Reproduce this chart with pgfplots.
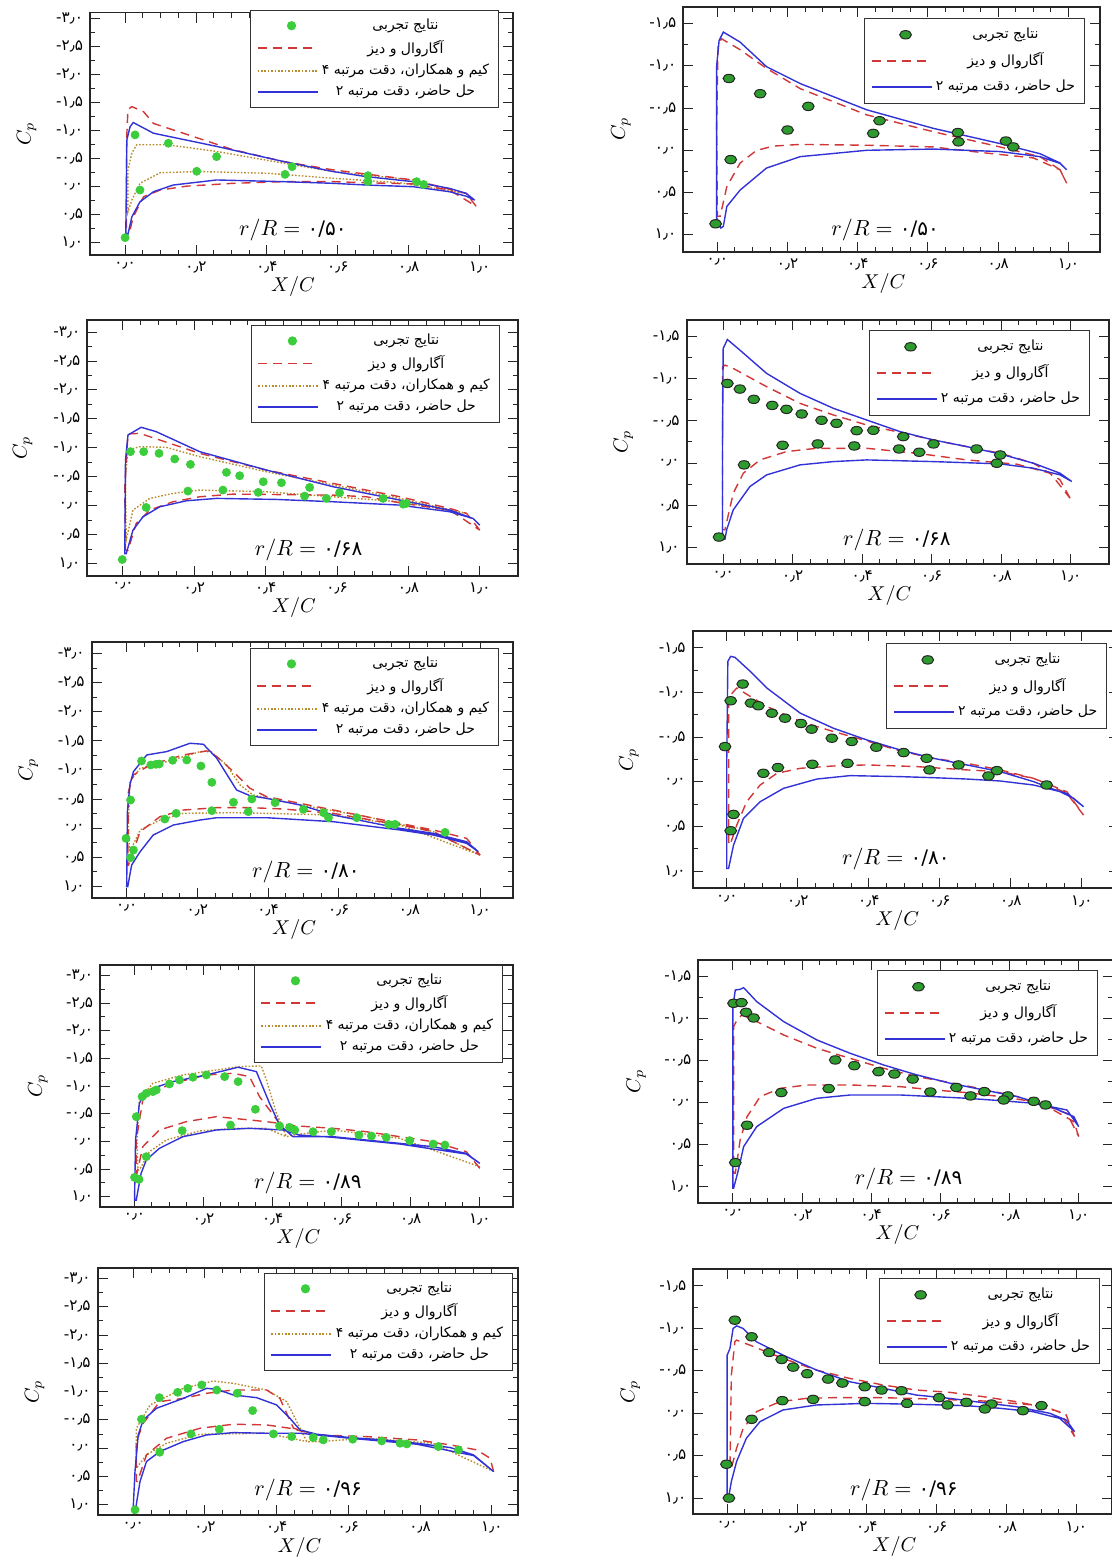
\documentclass[border=0pt]{standalone}
\usepackage{fontspec}
\usepackage{pgfplots}
\pgfplotsset{compat=1.18}
\newfontfamily\fa[Script=Arabic]{DejaVu Sans}
\newfontfamily\fan{DejaVu Sans}
\TeXXeTstate=1
\newcommand{\tickfont}{\fan\fontsize{7.6}{9}\selectfont}
\newcommand{\legfont}{\fa\fontsize{7.0}{8.6}\selectfont}
\newcommand{\m}[1]{\mbox{-}\mbox{#1}}
\definecolor{cexpL}{RGB}{60,205,60}
\definecolor{cexpR}{RGB}{45,155,45}
\definecolor{cagw}{RGB}{210,55,55}
\definecolor{ckim}{RGB}{185,140,45}
\definecolor{cpres}{RGB}{50,50,215}
\newcommand{\LA}{\beginR نتایج تجربی\endR}
\newcommand{\LB}{\beginR آگاروال و دیز\endR}
\newcommand{\LC}{\beginR کیم و همکاران، دقت مرتبه ۴\endR}
\newcommand{\LD}{\beginR حل حاضر، دقت مرتبه ۲\endR}
\pgfplotsset{
  lgline/.style={legend image code/.code={\draw[##1, line width=0.9pt] (0pt,0pt) -- (30pt,0pt);}},
  lgmark/.style={legend image code/.code={\draw[##1] plot coordinates {(17pt,0pt)};}},
  expL/.style={only marks, mark=*, mark size=2.0pt, mark options={fill=cexpL, draw=cexpL}},
  expR/.style={only marks, mark=*, mark size=2.1pt, mark options={xscale=1.4, fill=cexpR, draw=black!85, line width=0.5pt}},
  agw/.style={no marks, draw=cagw, color=cagw, line width=0.7pt, dash pattern=on 4.5pt off 3pt},
  kim/.style={no marks, draw=ckim, color=ckim, line width=0.7pt, dash pattern=on 0.8pt off 0.9pt},
  pres/.style={no marks, draw=cpres, color=cpres, line width=0.7pt},
  cpax/.style={scale only axis, anchor=south west, y dir=reverse,
    tick align=inside, xtick pos=both, ytick pos=both,
    xticklabel pos=bottom, yticklabel pos=left,
    xtick={0,0.2,0.4,0.6,0.8,1},
    xticklabels={۰٫۰,۰٫۲,۰٫۴,۰٫۶,۰٫۸,۱٫۰},
    minor x tick num=3, minor y tick num=1,
    major tick length=5pt, minor tick length=2.5pt,
    every tick/.style={black!85, line width=0.5pt},
    axis line style={black!85, line width=0.9pt},
    tick label style={font=\tickfont},
    xlabel={$X/C$}, ylabel={$C_p$},
    xlabel style={font=\fontsize{10}{12}\selectfont, at={(axis description cs:0.48,0)}, anchor=center, yshift=-16pt},
    ylabel style={font=\fontsize{10}{12}\selectfont, at={(axis description cs:-0.15,0.5)}, anchor=center},
    legend cell align=center,
    legend style={font=\legfont, draw=black!80, line width=0.6pt, fill=white, anchor=north east,
      inner xsep=3pt, inner ysep=2.5pt, nodes={inner sep=1.7pt}},
  },
  leftax/.style={cpax, ytick={-3,-2.5,-2,-1.5,-1,-0.5,0,0.5,1},
    yticklabels={\m{۳٫۰},\m{۲٫۵},\m{۲٫۰},\m{۱٫۵},\m{۱٫۰},\m{۰٫۵},۰٫۰,۰٫۵,۱٫۰},
    legend style={row sep=0.4pt}},
  rightax/.style={cpax, ytick={-1.5,-1,-0.5,0,0.5,1},
    yticklabels={\m{۱٫۵},\m{۱٫۰},\m{۰٫۵},۰٫۰,۰٫۵,۱٫۰},
    legend style={row sep=2.2pt, inner ysep=3pt}},
}
\newcommand{\legL}{%
  \addlegendimage{lgmark,expL}\addlegendentry{\LA}
  \addlegendimage{lgline,agw}\addlegendentry{\LB}
  \addlegendimage{lgline,kim}\addlegendentry{\LC}
  \addlegendimage{lgline,pres}\addlegendentry{\LD}}
\newcommand{\legR}{%
  \addlegendimage{lgmark,expR}\addlegendentry{\LA}
  \addlegendimage{lgline,agw}\addlegendentry{\LB}
  \addlegendimage{lgline,pres}\addlegendentry{\LD}}
\newcommand{\rr}[2]{\node[font=\fontsize{11}{13}\selectfont] at #1 {$r/R=$ {\fan\fontsize{10}{12}\selectfont #2}};}
\begin{document}
\begin{tikzpicture}
\useasboundingbox (0,0) rectangle (556pt,779pt);
%================ L1 r/R=0.50
\begin{axis}[leftax, at={(45pt,651.5pt)}, width=211.5pt, height=121.2pt,
  xmin=-0.099, xmax=1.094, ymin=-3.11, ymax=1.22,
  legend style={at={(axis description cs:0.967,1.011)}}]
\legL
\addplot[kim, forget plot] coordinates {(0.962,0.12) (0.812,-0.12) (0.587,-0.27) (0.446,-0.42) (0.258,-0.63) (0.117,-0.75) (0.033,-0.75) (0.019,-0.6) (0.008,-0.3) (0.008,0.45) (0.019,0.24) (0.042,-0.06) (0.099,-0.25) (0.211,-0.27) (0.4,-0.24) (0.587,-0.15) (0.775,-0.07) (0.962,0.12)};
\addplot[agw, forget plot] coordinates {(0.99,0.35) (0.962,0.12) (0.812,-0.12) (0.587,-0.30) (0.446,-0.45) (0.305,-0.66) (0.164,-0.955) (0.08,-1.13) (0.052,-1.34) (0.019,-1.43) (0.008,-1.38) (0.004,-0.8) (0.004,0.77) (0.014,0.77) (0.023,0.54) (0.052,0.18) (0.099,0.06) (0.174,-0.01) (0.305,-0.06) (0.446,-0.09) (0.587,-0.09) (0.68,-0.07) (0.812,-0.05) (0.915,0.06) (0.99,0.35)};
\addplot[pres, forget plot] coordinates {(0.986,0.24) (0.962,0.12) (0.915,0.03) (0.812,-0.09) (0.68,-0.18) (0.587,-0.27) (0.446,-0.45) (0.258,-0.72) (0.08,-0.955) (0.023,-1.146) (0.014,-1.07) (0.005,-0.84) (0.002,0.83) (0.008,0.85) (0.019,0.54) (0.042,0.27) (0.08,0.09) (0.136,-0.03) (0.258,-0.12) (0.446,-0.09) (0.587,-0.06) (0.68,-0.03) (0.812,0.0) (0.915,0.09) (0.962,0.17) (0.986,0.24)};
\addplot[expL, forget plot] coordinates {(0.028,-0.925) (0.122,-0.776) (0.258,-0.537) (0.471,-0.358) (0.685,-0.197) (0.822,-0.09) (0.842,-0.04) (0.685,-0.09) (0.451,-0.22) (0.202,-0.275) (0.042,0.06) (0.0,0.91)};
\rr{(axis cs:0.473,0.77)}{۰/۵۰}
\end{axis}
%================ R1 r/R=0.50
\begin{axis}[rightax, at={(341.65pt,653.15pt)}, width=208.35pt, height=122.5pt,
  xmin=-0.097, xmax=1.09, ymin=-1.70, ymax=1.20,
  legend style={at={(axis description cs:0.964,0.954)}}]
\legR
\addplot[agw, forget plot] coordinates {(0.995,0.39) (0.976,0.23) (0.919,0.075) (0.805,-0.04) (0.615,-0.22) (0.425,-0.42) (0.236,-0.73) (0.14,-0.97) (0.065,-1.19) (0.012,-1.32) (0.002,-1.25) (-0.002,-0.3) (0.0,0.78) (0.008,0.78) (0.027,0.43) (0.065,0.15) (0.112,0.0) (0.16,-0.05) (0.236,-0.07) (0.425,-0.06) (0.615,-0.04) (0.76,0.03) (0.9,0.09) (0.976,0.23) (0.995,0.39)};
\addplot[pres, forget plot] coordinates {(0.995,0.23) (0.976,0.15) (0.919,0.04) (0.805,-0.08) (0.615,-0.26) (0.425,-0.48) (0.236,-0.79) (0.14,-0.99) (0.065,-1.28) (0.017,-1.40) (0.005,-1.30) (-0.002,-1.0) (-0.002,0.8) (0.01,0.92) (0.017,0.90) (0.027,0.665) (0.065,0.47) (0.14,0.21) (0.236,0.075) (0.425,0.0) (0.615,-0.015) (0.805,0.015) (0.919,0.075) (0.976,0.155) (0.995,0.23)};
\addplot[expR, forget plot] coordinates {(0.033,-0.85) (0.122,-0.67) (0.259,-0.52) (0.462,-0.35) (0.685,-0.21) (0.822,-0.11) (0.843,-0.04) (0.687,-0.10) (0.444,-0.20) (0.2,-0.24) (0.038,0.11) (-0.005,0.87)};
\rr{(axis cs:0.478,0.94)}{۰/۵۰}
\end{axis}
%================ L2 r/R=0.68
\begin{axis}[leftax, at={(43.65pt,491.15pt)}, width=215.35pt, height=127.85pt,
  xmin=-0.10, xmax=1.107, ymin=-3.21, ymax=1.21,
  legend style={at={(axis description cs:0.958,0.98)}}]
\legL
\addplot[kim, forget plot] coordinates {(0.963,0.134) (0.776,-0.126) (0.589,-0.357) (0.402,-0.587) (0.215,-0.847) (0.121,-1.009) (0.047,-1.02) (0.014,-0.963) (0.007,-0.5) (0.009,0.596) (0.028,0.076) (0.075,-0.126) (0.14,-0.212) (0.215,-0.27) (0.402,-0.241) (0.589,-0.154) (0.776,-0.068) (0.963,0.134)};
\addplot[agw, forget plot] coordinates {(1.0,0.423) (0.963,0.134) (0.916,0.048) (0.776,-0.154) (0.589,-0.385) (0.402,-0.616) (0.215,-0.905) (0.047,-1.251) (0.014,-1.24) (0.005,-0.328) (0.007,0.769) (0.014,0.769) (0.037,0.307) (0.075,0.076) (0.14,-0.068) (0.215,-0.154) (0.308,-0.2) (0.589,-0.183) (0.682,-0.154) (0.776,-0.05) (0.916,0.076) (1.0,0.423)};
\addplot[pres, forget plot] coordinates {(1.0,0.336) (0.981,0.221) (0.916,0.076) (0.776,-0.097) (0.589,-0.328) (0.402,-0.616) (0.215,-0.934) (0.093,-1.28) (0.051,-1.355) (0.014,-1.222) (0.007,-0.789) (0.005,0.83) (0.009,0.83) (0.028,0.423) (0.056,0.192) (0.103,0.019) (0.178,-0.085) (0.262,-0.126) (0.43,-0.108) (0.589,-0.068) (0.776,-0.01) (0.916,0.105) (0.981,0.221) (1.0,0.336)};
\addplot[expL, forget plot] coordinates {(0.021,-0.934) (0.058,-0.934) (0.101,-0.905) (0.145,-0.807) (0.189,-0.714) (0.29,-0.576) (0.327,-0.518) (0.393,-0.414) (0.444,-0.397) (0.523,-0.316) (0.607,-0.224) (0.729,-0.126) (0.794,-0.039) (-0.002,0.931) (0.065,0.03) (0.182,-0.253) (0.28,-0.27) (0.379,-0.23) (0.509,-0.166) (0.57,-0.126) (0.785,-0.027)};
\rr{(axis cs:0.52,0.77)}{۰/۶۸}
\end{axis}
%================ R2 r/R=0.68
\begin{axis}[rightax, at={(343.35pt,497pt)}, width=211.15pt, height=122pt,
  xmin=-0.105, xmax=1.11, ymin=-1.70, ymax=1.20,
  legend style={at={(axis description cs:0.955,0.959)}}]
\legR
\addplot[agw, forget plot] coordinates {(0.998,0.418) (0.969,0.2) (0.893,0.003) (0.797,-0.116) (0.605,-0.274) (0.413,-0.452) (0.317,-0.571) (0.221,-0.709) (0.125,-0.907) (0.029,-1.124) (0.005,-1.164) (-0.002,-1.14) (-0.002,0.793) (0.005,0.793) (0.029,0.358) (0.058,0.121) (0.106,-0.037) (0.182,-0.136) (0.269,-0.175) (0.413,-0.175) (0.557,-0.116) (0.701,-0.037) (0.845,0.014) (0.941,0.121) (0.998,0.418)};
\addplot[pres, forget plot] coordinates {(1.003,0.22) (0.969,0.121) (0.893,0.003) (0.797,-0.108) (0.701,-0.195) (0.605,-0.274) (0.509,-0.373) (0.413,-0.511) (0.317,-0.65) (0.221,-0.828) (0.125,-1.065) (0.048,-1.342) (0.012,-1.468) (0.0,-1.362) (-0.002,-0.235) (-0.002,0.904) (0.005,0.904) (0.01,0.793) (0.029,0.556) (0.077,0.279) (0.125,0.141) (0.221,0.022) (0.317,-0.017) (0.413,-0.037) (0.605,-0.017) (0.797,0.01) (0.893,0.062) (0.969,0.141) (1.003,0.22)};
\addplot[expR, forget plot] coordinates {(0.012,-0.946) (0.048,-0.879) (0.088,-0.757) (0.141,-0.685) (0.182,-0.638) (0.226,-0.583) (0.283,-0.508) (0.326,-0.472) (0.384,-0.385) (0.432,-0.389) (0.518,-0.314) (0.605,-0.227) (0.729,-0.167) (0.797,-0.096) (-0.012,0.88) (0.06,0.022) (0.171,-0.211) (0.272,-0.227) (0.377,-0.203) (0.506,-0.167) (0.564,-0.128) (0.787,0.003)};
\rr{(axis cs:0.5,0.91)}{۰/۶۸}
\end{axis}
%================ L3 r/R=0.80
\begin{axis}[leftax, at={(45.85pt,330.15pt)}, width=210.8pt, height=128pt,
  xmin=-0.099, xmax=1.094, ymin=-3.21, ymax=1.20,
  legend style={at={(axis description cs:0.966,0.975)}}]
\legL
\addplot[kim, forget plot] coordinates {(1.0,0.466) (0.868,0.063) (0.679,-0.195) (0.491,-0.397) (0.358,-0.569) (0.321,-0.741) (0.283,-1.086) (0.236,-1.328) (0.208,-1.316) (0.113,-1.144) (0.038,-1.029) (0.009,-0.799) (0.005,-0.052) (0.008,0.408) (0.009,0.408) (0.038,0.034) (0.094,-0.138) (0.16,-0.253) (0.302,-0.264) (0.396,-0.253) (0.585,-0.224) (0.774,-0.052) (1.0,0.466)};
\addplot[agw, forget plot] coordinates {(1.0,0.466) (0.962,0.178) (0.868,0.034) (0.774,-0.08) (0.679,-0.195) (0.585,-0.31) (0.491,-0.425) (0.396,-0.54) (0.349,-0.684) (0.302,-0.971) (0.255,-1.23) (0.226,-1.328) (0.16,-1.259) (0.066,-1.086) (0.019,-0.914) (0.005,-0.626) (0.003,0.638) (0.005,0.638) (0.038,0.063) (0.094,-0.195) (0.16,-0.31) (0.255,-0.351) (0.349,-0.351) (0.443,-0.328) (0.585,-0.253) (0.774,-0.052) (0.868,0.063) (1.0,0.466)};
\addplot[pres, forget plot] coordinates {(0.995,0.408) (0.962,0.236) (0.868,0.092) (0.774,0.006) (0.679,-0.109) (0.585,-0.224) (0.491,-0.397) (0.396,-0.511) (0.349,-0.557) (0.311,-0.655) (0.255,-1.201) (0.217,-1.443) (0.179,-1.46) (0.113,-1.316) (0.057,-1.259) (0.019,-0.971) (0.009,-0.741) (0.002,-0.282) (0.0,1.011) (0.003,1.011) (0.014,0.638) (0.038,0.408) (0.075,0.121) (0.132,-0.052) (0.208,-0.138) (0.255,-0.178) (0.396,-0.178) (0.585,-0.109) (0.774,0.034) (0.868,0.121) (0.962,0.264) (0.995,0.408)};
\addplot[expL, forget plot] coordinates {(0.042,-1.155) (0.068,-1.086) (0.083,-1.098) (0.092,-1.103) (0.13,-1.167) (0.17,-1.172) (0.21,-1.069) (0.241,-0.787) (0.302,-0.443) (0.354,-0.5) (0.42,-0.437) (0.5,-0.322) (0.557,-0.264) (0.571,-0.178) (0.651,-0.178) (0.741,-0.063) (0.759,-0.063) (0.901,0.075) (0.011,-0.483) (-0.002,0.178) (0.011,0.511) (0.019,0.379) (0.108,-0.155) (0.14,-0.253) (0.241,-0.299) (0.344,-0.282)};
\rr{(axis cs:0.507,0.75)}{۰/۸۰}
\end{axis}
%================ R3 r/R=0.80
\begin{axis}[rightax, at={(346.35pt,334.85pt)}, width=213pt, height=128.65pt,
  xmin=-0.096, xmax=1.104, ymin=-1.69, ymax=1.19,
  legend style={at={(axis description cs:0.973,0.953)}}]
\legR
\addplot[agw, forget plot] coordinates {(1.005,0.371) (0.958,0.127) (0.864,-0.041) (0.77,-0.135) (0.676,-0.209) (0.582,-0.265) (0.488,-0.348) (0.394,-0.46) (0.3,-0.565) (0.207,-0.677) (0.113,-0.845) (0.066,-0.958) (0.028,-1.051) (0.011,-0.976) (0.005,-0.9) (0.005,0.67) (0.009,0.707) (0.028,0.483) (0.056,0.221) (0.094,0.034) (0.141,-0.097) (0.207,-0.153) (0.3,-0.179) (0.394,-0.191) (0.535,-0.172) (0.676,-0.135) (0.77,-0.116) (0.864,-0.041) (0.958,0.109) (1.005,0.371)};
\addplot[pres, forget plot] coordinates {(1.005,0.277) (0.977,0.183) (0.939,0.109) (0.864,-0.004) (0.77,-0.116) (0.676,-0.191) (0.582,-0.265) (0.488,-0.359) (0.394,-0.471) (0.3,-0.602) (0.207,-0.77) (0.113,-1.051) (0.066,-1.238) (0.023,-1.395) (0.011,-1.406) (0.003,-1.35) (0.0,-0.265) (0.0,0.969) (0.005,0.969) (0.019,0.707) (0.047,0.408) (0.094,0.221) (0.16,0.071) (0.254,-0.033) (0.347,-0.071) (0.488,-0.06) (0.582,-0.048) (0.676,-0.033) (0.77,-0.011) (0.864,0.034) (0.958,0.127) (1.005,0.277)};
\addplot[expR, forget plot] coordinates {(0.045,-1.096) (0.011,-0.909) (0.068,-0.883) (0.089,-0.853) (0.127,-0.77) (0.164,-0.714) (0.209,-0.655) (0.239,-0.591) (0.296,-0.49) (0.352,-0.453) (0.421,-0.389) (0.498,-0.329) (0.563,-0.265) (0.653,-0.191) (0.761,-0.127) (0.901,0.034) (-0.005,-0.396) (0.019,0.363) (0.011,0.546) (0.103,-0.097) (0.144,-0.161) (0.241,-0.198) (0.34,-0.209) (0.571,-0.135) (0.737,-0.067)};
\rr{(axis cs:0.476,0.86)}{۰/۸۰}
\end{axis}
%================ L4 r/R=0.89
\begin{axis}[leftax, at={(50pt,175.65pt)}, width=206.65pt, height=120.85pt,
  xmin=-0.10, xmax=1.097, ymin=-3.19, ymax=1.18,
  legend style={at={(axis description cs:0.975,1.0)}}]
\legL
\addplot[kim, forget plot] coordinates {(1.0,0.457) (0.768,-0.056) (0.575,-0.207) (0.459,-0.116) (0.44,-0.086) (0.411,-0.508) (0.382,-1.112) (0.367,-1.365) (0.304,-1.353) (0.237,-1.293) (0.14,-1.202) (0.053,-1.051) (0.014,-0.75) (0.007,-0.026) (0.01,0.517) (0.014,0.517) (0.043,0.186) (0.092,-0.026) (0.188,-0.189) (0.285,-0.237) (0.382,-0.237) (0.44,-0.086)};
\addplot[agw, forget plot] coordinates {(1.0,0.487) (0.961,0.186) (0.865,0.005) (0.768,-0.086) (0.671,-0.176) (0.575,-0.237) (0.459,-0.285) (0.42,-0.327) (0.391,-0.569) (0.362,-0.81) (0.333,-1.172) (0.285,-1.232) (0.208,-1.202) (0.111,-1.051) (0.053,-0.9) (0.024,-0.75) (0.005,-0.026) (0.005,0.578) (0.007,0.578) (0.024,0.095) (0.072,-0.207) (0.15,-0.357) (0.237,-0.448) (0.333,-0.388) (0.382,-0.357) (0.42,-0.327)};
\addplot[pres, forget plot] coordinates {(1.0,0.397) (0.961,0.216) (0.865,0.095) (0.768,0.035) (0.671,-0.026) (0.575,-0.086) (0.459,-0.086) (0.42,-0.297) (0.391,-0.689) (0.353,-1.262) (0.3,-1.341) (0.208,-1.202) (0.111,-1.081) (0.053,-0.961) (0.024,-0.81) (0.014,-0.689) (0.003,-0.026) (0.0,1.06) (0.005,1.06) (0.019,0.578) (0.034,0.336) (0.072,0.125) (0.14,-0.086) (0.237,-0.207) (0.333,-0.237) (0.43,-0.207) (0.478,-0.116) (0.575,-0.074) (0.768,0.047) (0.961,0.228) (1.0,0.397)};
\addplot[expL, forget plot] coordinates {(0.005,-0.448) (0.022,-0.81) (0.034,-0.87) (0.053,-0.9) (0.063,-0.931) (0.101,-1.039) (0.13,-1.112) (0.169,-1.16) (0.208,-1.202) (0.261,-1.172) (0.3,-1.081) (0.35,-0.581) (0.42,-0.279) (0.449,-0.255) (0.464,-0.207) (0.517,-0.176) (0.57,-0.176) (0.65,-0.116) (0.686,-0.098) (0.729,-0.074) (0.797,-0.014) (0.865,0.047) (0.899,0.065) (0.0,0.65) (0.013,0.686) (0.034,0.276) (0.138,-0.195) (0.278,-0.297)};
\rr{(axis cs:0.502,0.747)}{۰/۸۹}
\end{axis}
%================ R4 r/R=0.89
\begin{axis}[rightax, at={(349.15pt,177.65pt)}, width=207.5pt, height=121.35pt,
  xmin=-0.10, xmax=1.10, ymin=-1.69, ymax=1.19,
  legend style={at={(axis description cs:0.963,0.959)}}]
\legR
\addplot[agw, forget plot] coordinates {(1.0,0.406) (0.986,0.228) (0.918,0.07) (0.822,-0.069) (0.725,-0.156) (0.629,-0.235) (0.532,-0.306) (0.436,-0.405) (0.339,-0.523) (0.243,-0.642) (0.147,-0.8) (0.06,-0.978) (0.026,-1.037) (0.012,-0.978) (0.002,-0.9) (0.002,0.841) (0.007,0.841) (0.021,0.445) (0.041,0.169) (0.079,-0.069) (0.137,-0.167) (0.214,-0.207) (0.339,-0.207) (0.484,-0.187) (0.581,-0.148) (0.677,-0.116) (0.773,-0.069) (0.87,-0.009) (0.966,0.129) (1.0,0.406)};
\addplot[pres, forget plot] coordinates {(1.0,0.287) (0.986,0.169) (0.918,0.05) (0.822,-0.069) (0.725,-0.148) (0.629,-0.227) (0.532,-0.326) (0.436,-0.444) (0.339,-0.583) (0.243,-0.741) (0.147,-0.958) (0.069,-1.196) (0.031,-1.362) (0.021,-1.342) (0.007,-1.334) (0.0,-1.136) (0.0,1.019) (0.002,1.019) (0.016,0.801) (0.031,0.525) (0.069,0.287) (0.147,0.07) (0.243,-0.049) (0.339,-0.088) (0.484,-0.088) (0.581,-0.069) (0.677,-0.049) (0.773,-0.021) (0.87,0.01) (0.966,0.09) (1.0,0.287)};
\addplot[expR, forget plot] coordinates {(0.002,-1.176) (0.025,-1.184) (0.038,-1.069) (0.06,-1.002) (0.296,-0.504) (0.351,-0.436) (0.421,-0.365) (0.467,-0.337) (0.52,-0.277) (0.646,-0.178) (0.727,-0.128) (0.795,-0.077) (0.87,-0.013) (0.904,0.03) (0.007,0.714) (0.041,0.271) (0.14,-0.117) (0.277,-0.164) (0.571,-0.124) (0.687,-0.077) (0.783,-0.029)};
\rr{(axis cs:0.508,0.91)}{۰/۸۹}
\end{axis}
%================ L5 r/R=0.96
\begin{axis}[leftax, at={(48.85pt,21.5pt)}, width=210.15pt, height=123.35pt,
  xmin=-0.099, xmax=1.073, ymin=-3.18, ymax=1.18,
  legend style={at={(axis description cs:0.988,0.981)}}]
\legL
\addplot[kim, forget plot] coordinates {(1.005,0.412) (0.837,-0.088) (0.651,-0.176) (0.521,-0.118) (0.484,-0.118) (0.456,-0.471) (0.428,-0.824) (0.372,-1.029) (0.279,-1.147) (0.223,-1.188) (0.14,-1.059) (0.047,-0.765) (0.009,-0.353) (0.007,0.353) (0.009,0.353) (0.037,0.118) (0.093,-0.088) (0.186,-0.247) (0.372,-0.265) (0.484,-0.118)};
\addplot[agw, forget plot] coordinates {(1.005,0.412) (0.995,0.176) (0.958,0.029) (0.884,-0.059) (0.791,-0.147) (0.651,-0.206) (0.512,-0.235) (0.447,-0.353) (0.409,-0.882) (0.372,-1.029) (0.279,-1.029) (0.205,-0.971) (0.14,-0.882) (0.074,-0.824) (0.028,-0.441) (0.009,-0.118) (0.009,0.588) (0.012,0.588) (0.037,0.118) (0.093,-0.176) (0.186,-0.353) (0.279,-0.424) (0.372,-0.412) (0.437,-0.353) (0.512,-0.235)};
\addplot[pres, forget plot] coordinates {(1.005,0.412) (0.949,0.118) (0.884,-0.012) (0.791,-0.088) (0.698,-0.147) (0.605,-0.188) (0.512,-0.247) (0.465,-0.324) (0.437,-0.529) (0.4,-0.765) (0.344,-0.894) (0.279,-0.941) (0.233,-1.041) (0.205,-1.059) (0.14,-0.882) (0.065,-0.706) (0.028,-0.5) (0.014,-0.235) (0.005,0.412) (0.0,1.059) (0.007,1.059) (0.019,0.588) (0.037,0.235) (0.074,0.059) (0.14,-0.118) (0.205,-0.235) (0.279,-0.276) (0.372,-0.265) (0.465,-0.265) (0.512,-0.235) (0.605,-0.176) (0.791,-0.071) (0.949,0.129) (1.005,0.412)};
\addplot[expL, forget plot] coordinates {(0.005,1.088) (0.023,-0.512) (0.073,-0.894) (0.124,-0.988) (0.152,-1.059) (0.191,-1.118) (0.233,-1.029) (0.29,-0.971) (0.333,-0.665) (0.391,-0.253) (0.442,-0.206) (0.502,-0.188) (0.53,-0.147) (0.612,-0.159) (0.693,-0.129) (0.744,-0.088) (0.763,-0.076) (0.851,-0.029) (0.907,0.029) (0.074,0.071) (0.161,-0.253) (0.24,-0.335)};
\rr{(axis cs:0.488,0.735)}{۰/۹۶}
\end{axis}
%================ R5 r/R=0.96
\begin{axis}[rightax, at={(346.65pt,21.85pt)}, width=209.5pt, height=122.65pt,
  xmin=-0.097, xmax=1.103, ymin=-1.70, ymax=1.19,
  legend style={at={(axis description cs:0.971,0.963)}}]
\legR
\addplot[agw, forget plot] coordinates {(0.995,0.274) (0.971,0.02) (0.924,-0.059) (0.828,-0.137) (0.733,-0.196) (0.637,-0.247) (0.542,-0.274) (0.447,-0.333) (0.351,-0.411) (0.256,-0.509) (0.16,-0.646) (0.065,-0.803) (0.027,-0.862) (0.022,-0.842) (0.012,-0.45) (0.008,0.646) (0.012,0.646) (0.027,0.411) (0.046,0.176) (0.084,-0.019) (0.151,-0.137) (0.227,-0.176) (0.303,-0.184) (0.447,-0.184) (0.59,-0.168) (0.733,-0.145) (0.876,-0.098) (0.952,-0.019) (0.995,0.274)};
\addplot[pres, forget plot] coordinates {(0.995,0.216) (0.971,0.079) (0.924,0.0) (0.828,-0.078) (0.733,-0.125) (0.637,-0.176) (0.542,-0.215) (0.447,-0.294) (0.351,-0.372) (0.256,-0.509) (0.16,-0.685) (0.084,-0.842) (0.046,-0.999) (0.027,-1.03) (0.017,-0.999) (0.008,-0.764) (0.0,-0.685) (0.0,1.019) (0.003,1.019) (0.012,0.803) (0.027,0.568) (0.055,0.294) (0.094,0.098) (0.16,-0.039) (0.256,-0.098) (0.399,-0.117) (0.542,-0.106) (0.685,-0.09) (0.781,-0.059) (0.876,-0.019) (0.952,0.059) (0.995,0.216)};
\addplot[expR, forget plot] coordinates {(0.022,-1.097) (0.07,-0.901) (0.12,-0.717) (0.156,-0.634) (0.189,-0.544) (0.229,-0.466) (0.289,-0.403) (0.33,-0.356) (0.394,-0.313) (0.442,-0.274) (0.499,-0.266) (0.607,-0.184) (0.685,-0.129) (0.757,-0.109) (0.9,-0.09) (-0.002,0.6) (0.005,0.999) (0.07,0.071) (0.158,-0.149) (0.246,-0.164) (0.394,-0.137) (0.515,-0.117) (0.631,-0.098) (0.738,-0.051) (0.847,-0.031)};
\rr{(axis cs:0.506,0.9)}{۰/۹۶}
\end{axis}
\end{tikzpicture}
\end{document}
